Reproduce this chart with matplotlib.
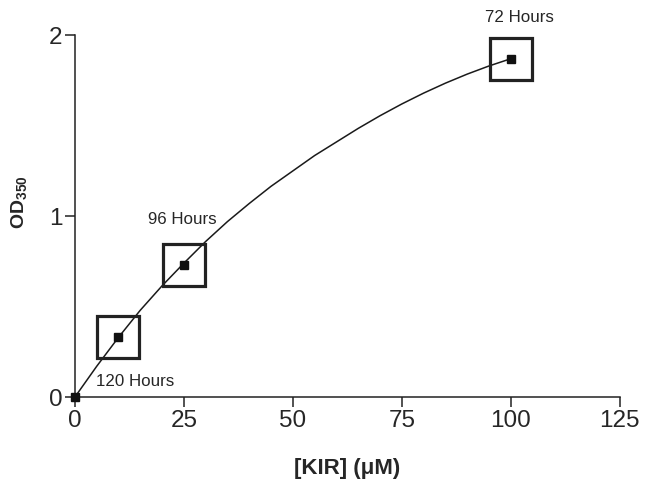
import matplotlib
matplotlib.use("Agg")
import matplotlib.pyplot as plt

plt.rcParams["font.family"] = ["Liberation Sans", "DejaVu Sans"]
plt.rcParams["mathtext.fontset"] = "custom"
plt.rcParams["mathtext.rm"] = "Liberation Sans"
plt.rcParams["mathtext.bf"] = "Liberation Sans:bold"

# measured points (KIR concentration, OD350)
kir = [0, 10, 25, 100]
od = [0.0, 0.33, 0.73, 1.87]
boxed = [False, True, True, True]

# fitted curve
curve_x = [0, 5, 10, 15, 20, 25, 30, 35, 40, 45, 50,
           55, 60, 65, 70, 75, 80, 85, 90, 95, 100]
curve_y = [0.0, 0.17, 0.33, 0.48, 0.615, 0.74, 0.86, 0.97, 1.07, 1.165, 1.25,
           1.335, 1.41, 1.485, 1.555, 1.62, 1.68, 1.735, 1.785, 1.83, 1.87]

labels = ["120 Hours", "96 Hours", "72 Hours"]
label_x = [13.8, 24.7, 102]
label_y = [0.085, 0.98, 2.10]

fig = plt.figure(figsize=(6.45, 4.82), dpi=100)
ax = fig.add_axes([0.116, 0.176, 0.845, 0.751])

ax.plot(curve_x, curve_y, color="#1a1a1a", lw=1.1, zorder=2)
ax.plot(kir, od, ls="none", marker="s", ms=5.5, color="#111111", zorder=4, clip_on=False)
bx = [x for x, b in zip(kir, boxed) if b]
by = [y for y, b in zip(od, boxed) if b]
ax.plot(bx, by, ls="none", marker="s", ms=30, mfc="none", mec="#222222", mew=2.3, zorder=3)

for t, x, y in zip(labels, label_x, label_y):
    ax.text(x, y, t, ha="center", va="center", fontsize=12.2, color="#262626")

ax.set_xlim(0, 125)
ax.set_ylim(0, 2)
ax.set_xticks([0, 25, 50, 75, 100, 125])
ax.set_yticks([0, 1, 2])
for s in ["top", "right"]:
    ax.spines[s].set_visible(False)
for s in ["left", "bottom"]:
    ax.spines[s].set_linewidth(1.1)
    ax.spines[s].set_color("#222222")
ax.tick_params(length=7, width=1.1, color="#222222", labelsize=17.5, labelcolor="#262626", pad=2)

ax.set_xlabel("[KIR] (\u03bcM)", fontsize=16, fontweight="bold", color="#262626", labelpad=19)
ax.text(-0.1, 0.54, r"$\mathbf{OD}_{\mathbf{350}}$", transform=ax.transAxes,
        rotation=90, ha="center", va="center", fontsize=14, color="#262626")

fig.savefig("out.png", dpi=100)
